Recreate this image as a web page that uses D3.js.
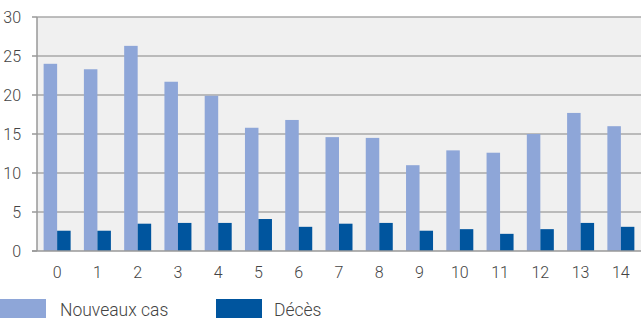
<!DOCTYPE html>
<html><head><meta charset="utf-8">
<script src="https://cdn.jsdelivr.net/npm/d3@7"></script>
<style>body{margin:0;background:#fff}svg{display:block}text{font-family:Roboto,sans-serif;font-weight:300;fill:#444}</style>
</head><body><svg id="c" width="641" height="318"></svg>
<script>
const categories = ["0","1","2","3","4","5","6","7","8","9","10","11","12","13","14"];
const nouveauxCas = [24,23.3,26.3,21.7,19.9,15.8,16.8,14.6,14.5,11,12.9,12.6,15,17.7,16];
const deces = [2.6,2.6,3.5,3.6,3.6,4.1,3.1,3.5,3.6,2.6,2.8,2.2,2.8,3.6,3.1];
const yTicks = [0,5,10,15,20,25,30];
const seriesNames = ["Nouveaux cas","Décès"];
const colors = ["#8ea6d8","#00559e"];

const svg = d3.select("#c");
const L=37, R=641, T=17, B=251;
const x = d3.scaleBand().domain(categories).range([L,R]).paddingInner(0).paddingOuter(0);
const y = d3.scaleLinear().domain([0,30]).range([B,T]);
const bw = 13.5;

svg.append("rect").attr("x",L).attr("y",T).attr("width",R-L).attr("height",B-T).attr("fill","#f0f0f0");
svg.append("g").selectAll("line").data(yTicks.filter(d=>d>0)).join("line")
  .attr("x1",L).attr("x2",R).attr("y1",d=>y(d)).attr("y2",d=>y(d))
  .attr("stroke","#a9a9a9").attr("stroke-width",1.5);
svg.append("g").selectAll("line").data(yTicks).join("line")
  .attr("x1",L-5).attr("x2",L).attr("y1",d=>y(d)).attr("y2",d=>y(d))
  .attr("stroke","#999").attr("stroke-width",1.5);

const g = svg.append("g");
categories.forEach((c,i)=>{
  const cx = x(c)+x.bandwidth()/2;
  g.append("rect").attr("x",cx-bw).attr("width",bw).attr("y",y(nouveauxCas[i])).attr("height",B-y(nouveauxCas[i])).attr("fill",colors[0]);
  g.append("rect").attr("x",cx).attr("width",bw).attr("y",y(deces[i])).attr("height",B-y(deces[i])).attr("fill",colors[1]);
});

svg.append("line").attr("x1",L).attr("x2",L).attr("y1",T).attr("y2",B).attr("stroke","#999").attr("stroke-width",1.5);
svg.append("line").attr("x1",L-5).attr("x2",R).attr("y1",B).attr("y2",B).attr("stroke","#999").attr("stroke-width",1.5);

svg.append("g").selectAll("text").data(yTicks).join("text")
  .attr("x",21).attr("y",d=>y(d)).attr("dy","0.36em").attr("text-anchor","end")
  .style("font-size","16px").text(d=>d);
svg.append("g").selectAll("text").data(categories).join("text")
  .attr("x",d=>x(d)+x.bandwidth()/2).attr("y",278).attr("text-anchor","middle")
  .style("font-size","16px").text(d=>d);

const leg = [{x:0,tx:60},{x:216,tx:274}];
seriesNames.forEach((n,i)=>{
  svg.append("rect").attr("x",leg[i].x).attr("y",299).attr("width",46).attr("height",19).attr("fill",colors[i]);
  svg.append("text").attr("x",leg[i].tx).attr("y",315.5).style("font-size","17.5px").text(n);
});
</script></body></html>
